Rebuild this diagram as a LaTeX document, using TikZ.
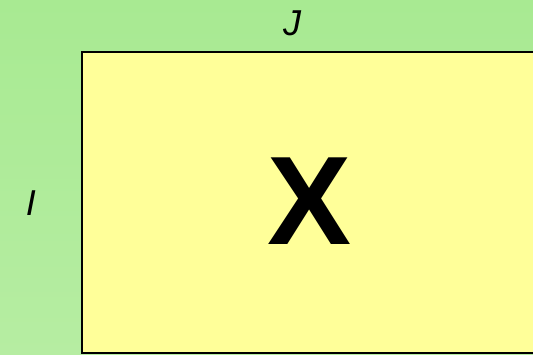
\documentclass[tikz,border=0pt]{standalone}
\usepackage{fontspec}
\setmainfont{Liberation Sans}
\usetikzlibrary{positioning}
\definecolor{bggreen}{HTML}{A8EA92}
\definecolor{bggreenlow}{HTML}{B6EDA2}
\definecolor{tableyellow}{HTML}{FFFF99}
\begin{document}
\begin{tikzpicture}[x=1pt, y=-1pt, every node/.style={inner sep=0pt},
  idxlabel/.style={font=\fontsize{36}{36}\selectfont\itshape}]
  % background and frame
  \shade[top color=bggreen, bottom color=bggreenlow] (0,0) rectangle (533,355);
  \useasboundingbox (0,0) rectangle (533,355);
  % matrix block, runs past the right edge
  \draw[fill=tableyellow, line width=1.5pt] (82,52) rectangle (545,353);
  \node[font=\fontsize{126}{126}\selectfont\bfseries] (mat) at (309.5,201.5) {X};
  % index labels
  \node[idxlabel] (colJ) at (292,23) {J};
  \node[idxlabel] (rowI) at (31,203.5) {I};
\end{tikzpicture}
\end{document}
